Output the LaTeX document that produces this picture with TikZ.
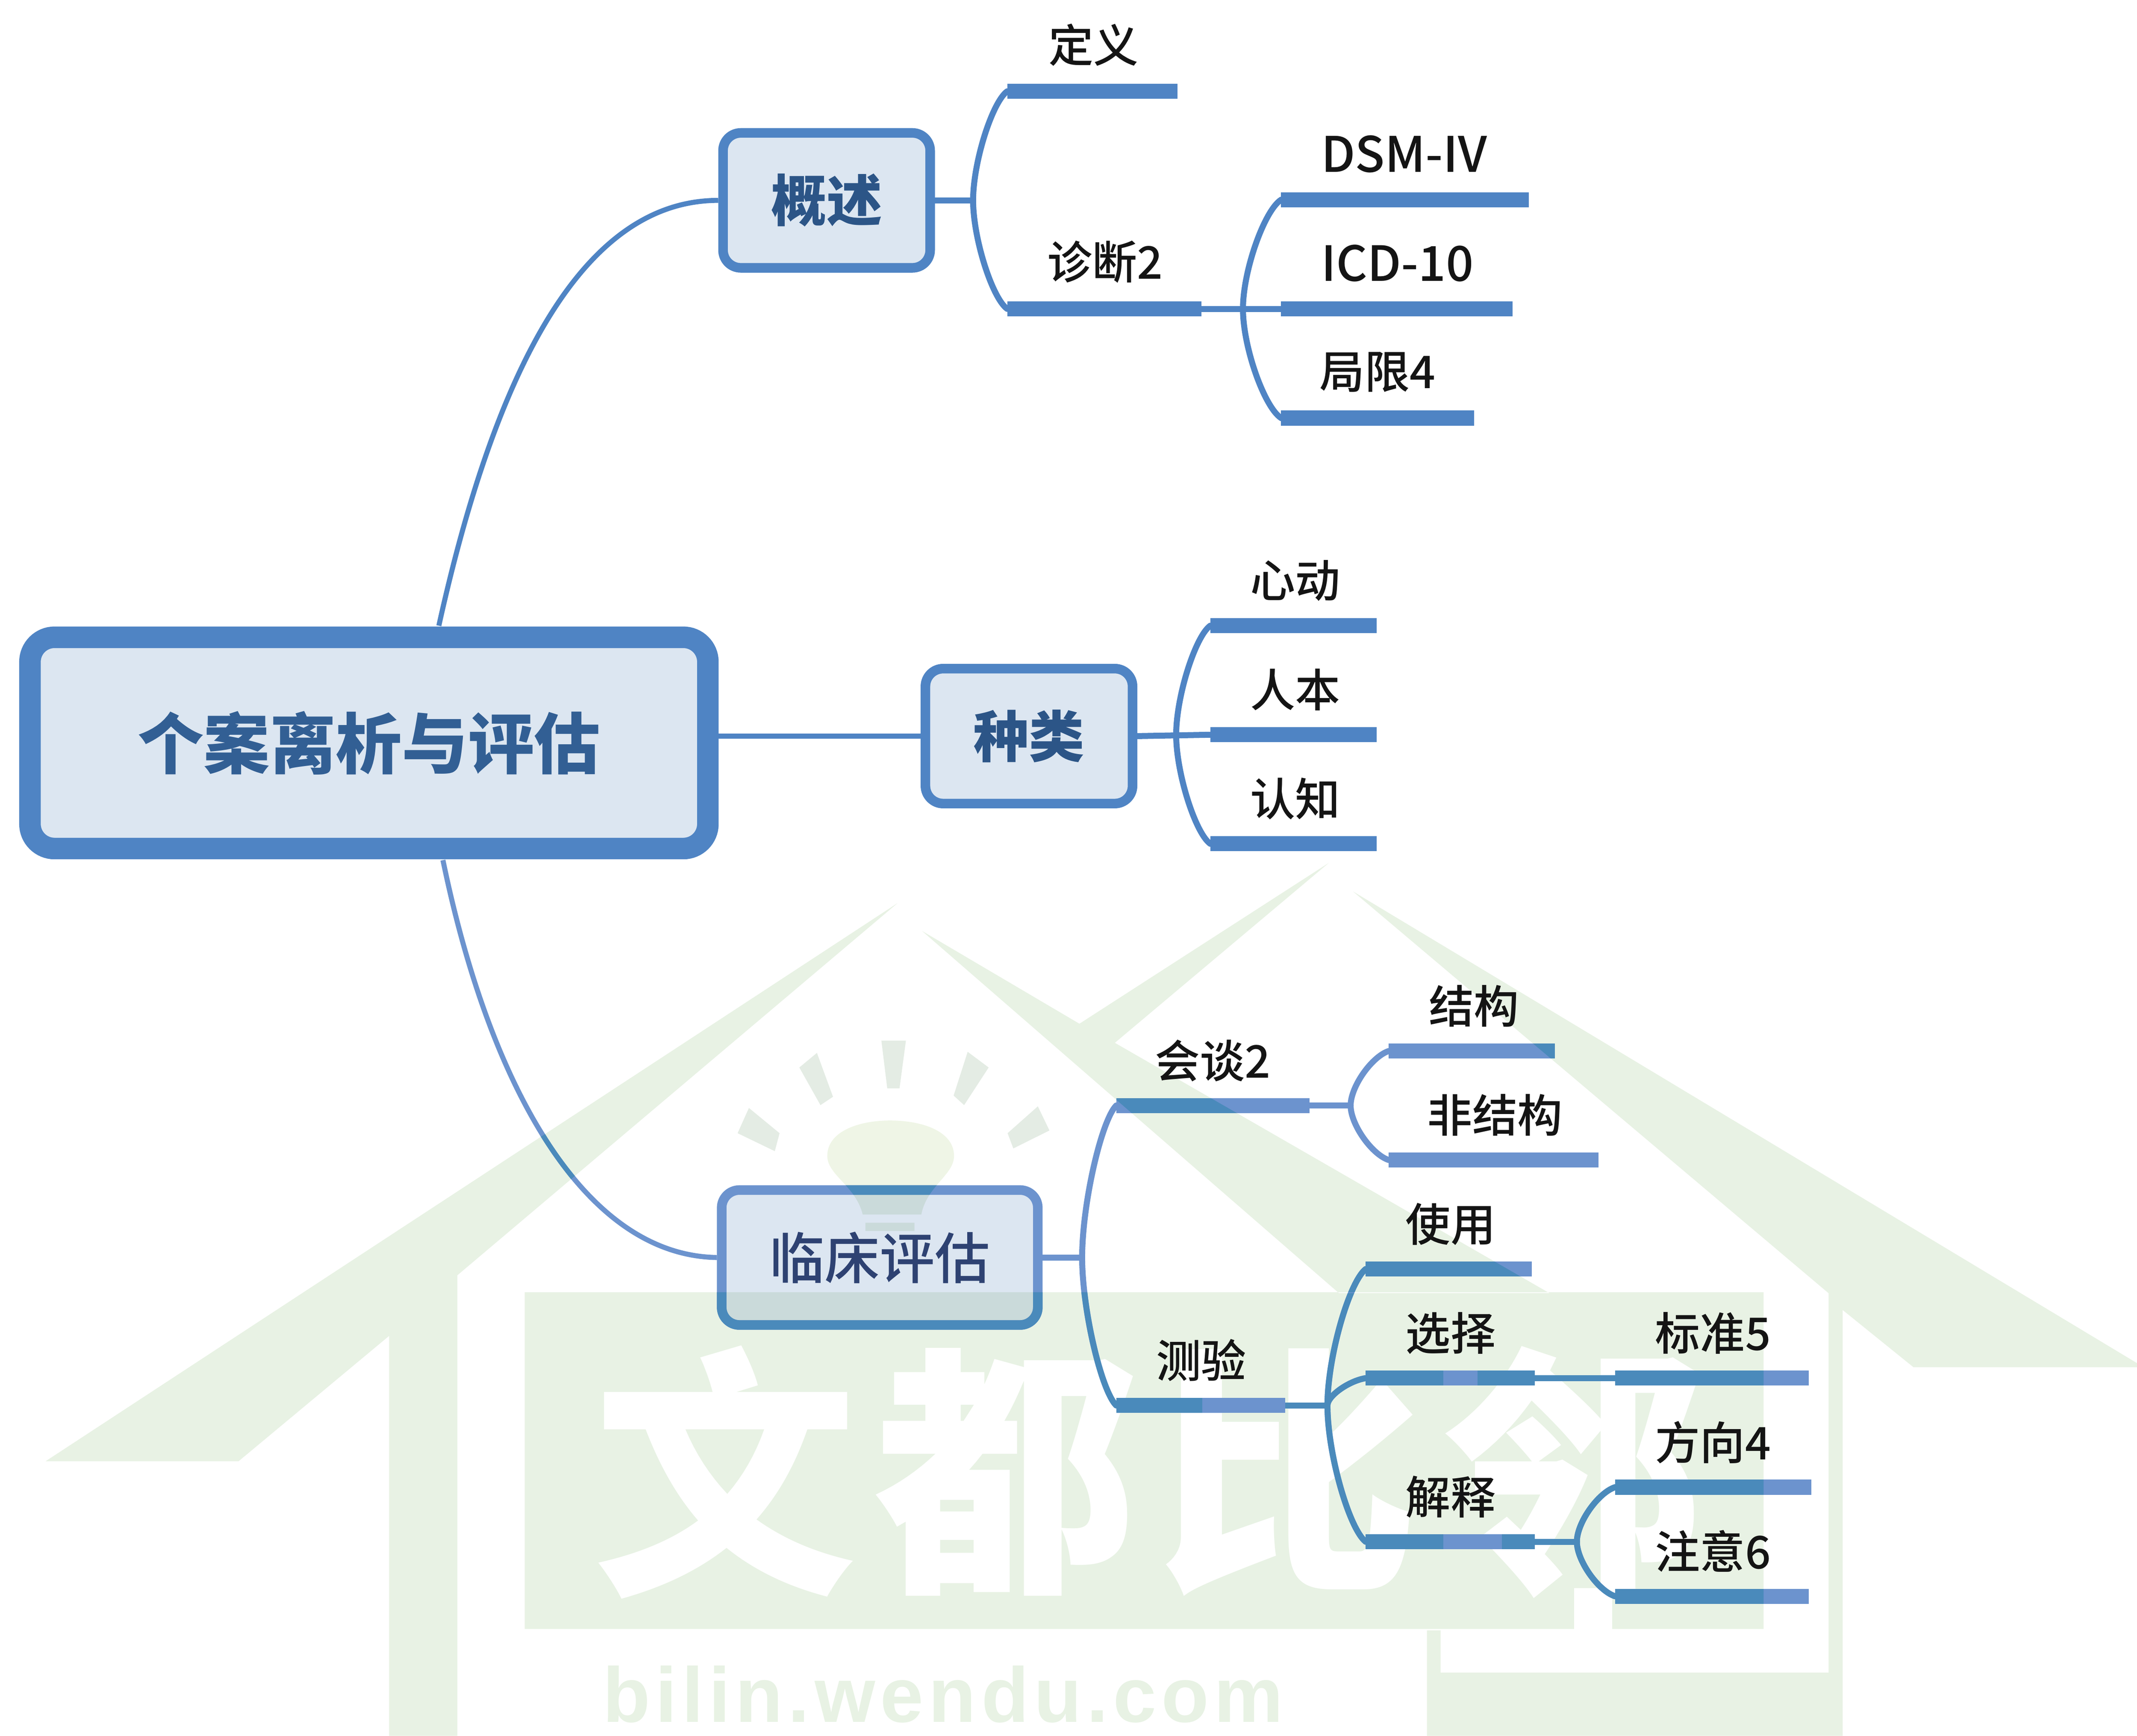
\documentclass[tikz,border=0pt]{standalone}
\usepackage{fontspec}
\usetikzlibrary{calc}
\setmainfont{Noto Sans CJK SC}
\newfontfamily\medfont{Noto Sans CJK SC Medium}
\newfontfamily\urlfont[LetterSpace=6.5]{Liberation Sans}
\definecolor{wmgreen}{HTML}{E8F2E4}
\definecolor{wmray}{HTML}{E4ECE4}
\definecolor{wmbulb}{HTML}{EFF5E6}
\definecolor{wmtint}{RGB}{150,185,150}
\definecolor{mapblue}{HTML}{4F84C4}
\definecolor{lowblue}{HTML}{6C93CE}
\definecolor{darkblue}{HTML}{4A8ABB}
\definecolor{boxfill}{HTML}{DCE6F1}
\definecolor{rootink}{HTML}{325F94}
\definecolor{boxink}{HTML}{2C5587}
\definecolor{lowink}{HTML}{2E4272}
\tikzset{
  wmhouse/.style={fill=wmgreen},
  wmraysty/.style={fill=wmray},
  wmbulbsty/.style={fill=wmbulb},
  conn/.style={draw=mapblue,line width=2.5pt,line cap=round},
  mainconn/.style={draw=mapblue,line width=2.1pt},
  lowconn/.style={draw=lowblue,line width=2.5pt,line cap=round},
  lowmain/.style={draw=lowblue,line width=2.1pt},
  barbox/.style={fill=mapblue,inner sep=0pt,minimum height=0.22cm,outer sep=0pt},
  lowbar/.style={barbox,fill=lowblue},
  lbl/.style={inner sep=0pt,anchor=west,text=black!92,font=\medfont\fontsize{18.8}{20}\selectfont},
  rootbox/.style={draw=mapblue,fill=boxfill,line width=9pt,rounded corners=0.36cm,inner sep=0pt,text=rootink,font=\fontsize{27.6}{30}\selectfont\bfseries,minimum width=9.95cm,minimum height=3.1cm},
  topicbox/.style={draw=mapblue,fill=boxfill,line width=4pt,rounded corners=0.26cm,inner sep=0pt,text=boxink,font=\fontsize{23.2}{26}\selectfont\bfseries,minimum height=1.98cm},
  wmchar/.style={inner sep=0pt,text=white,font=\fontsize{110}{112}\selectfont\bfseries},
  wmurl/.style={inner sep=0pt,text=wmgreen,font=\urlfont\bfseries\fontsize{32.5}{36}\selectfont},
}
\newcommand{\wmhousepath}{
  (658.6,662.5) -- (33.4,1072) -- (175,1072) -- (285.5,980) -- (285.5,1273.4) -- (335.5,1273.4) -- (335.5,935.6) -- cycle
  (676.6,683) -- (792,751) -- (975,633) -- (818,765) -- (1137,948.7) -- (982.5,948.7) -- cycle
  (992.8,654) -- (1568,1000) -- (1568,1003) -- (1404,1003) -- (1352,961) -- (1352,1273.4) -- (1047,1273.4) -- (1047,1196) -- (1057,1196) -- (1057,1227) -- (1341.7,1227) -- (1341.7,948.7) -- cycle
  (385,948) rectangle (1294,1195)
}
\newcommand{\wmraypath}{
  (646.7,763.4) -- (664.7,763.4) -- (660,798.4) -- (651,798.4) -- cycle
  (599.4,772.4) -- (586.5,783.1) -- (602,810.7) -- (611.2,804.6) -- cycle
  (710,771.6) -- (725.4,783.1) -- (707.4,810.7) -- (699.7,803.7) -- cycle
  (549.5,812.8) -- (572,831.3) -- (568.5,844.5) -- (541.2,831.3) -- cycle
  (761.5,811.6) -- (770,829.3) -- (743.5,842.5) -- (739.3,831.3) -- cycle
  (635,897) rectangle (671,903)
}
\newcommand{\wmbulbpath}{
  (633,891) .. controls (628,870) and (607,862) .. (607,848) .. controls (607,830) and (630,822) .. (653,822) .. controls (677,822) and (700,830) .. (700,848) .. controls (700,862) and (680,870) .. (676,891) -- cycle
}
% name, x1, x2, y, text x, text y, text
\newcommand{\leafbar}[7]{%
  \node[barbox,minimum width={(#3-#2)*0.02cm}] (#1) at ({(#2+#3)/2},#4) {};
  \node[lbl] (#1t) at (#5,#6) {#7};
}
\newcommand{\lowleaf}[7]{%
  \node[lowbar,minimum width={(#3-#2)*0.02cm}] (#1) at ({(#2+#3)/2},#4) {};
  \node[lbl] (#1t) at (#5,#6) {#7};
}
% junction, target bar, connector style
\newcommand{\brch}[3][conn]{%
  \coordinate (tmpA) at ($(#2|-#3.west)!0.56!(#3.west)$);
  \coordinate (tmpB) at ($(#3.west)!0.1!(#2)$);
  \draw[#1] (#2) .. controls ($(#2|-#3.west)!0.65!(#2)$) and (tmpA|-tmpB) .. (#3.west);
}
\newcommand{\lowconns}[2]{%
  \draw[#2] (rb0) .. controls (360,800) and (430,921) .. (lc.west);
  \draw[#1] (lc.east) -- (j4);
  \brch[#1]{j4}{ht}\brch[#1]{j4}{cy}
  \draw[#1] (ht.east) -- (j5);
  \brch[#1]{j5}{jg}\brch[#1]{j5}{fjg}
  \draw[#1] (cy.east) -- (j6);
  \brch[#1]{j6}{sy}\brch[#1]{j6}{xz}\brch[#1]{j6}{js}
  \draw[#1] (xz.east) -- (bz.west);
  \draw[#1] (js.east) -- (j7);
  \brch[#1]{j7}{fx}\brch[#1]{j7}{zy}
}
\newcommand{\barplate}[1]{\fill[darkblue] (#1.north west) rectangle (#1.south east);}
\begin{document}
\begin{tikzpicture}[x=0.02cm,y=-0.02cm]
\useasboundingbox (0,0) rectangle (1568,1273.4);
% watermark
\fill[wmhouse] \wmhousepath;
\fill[wmraysty] \wmraypath;
\fill[wmbulbsty] \wmbulbpath;
\node[wmchar] (wm1) at (532,1080) {文};
\node[wmchar] (wm2) at (738,1080) {都};
\node[wmchar] (wm3) at (945,1080) {比};
\node[wmchar] (wm4) at (1155,1080) {邻};
\fill[white] (1155,1165) rectangle (1183,1196);
\node[wmurl,anchor=west] (wmu) at (442,1243) {bilin.wendu.com};
% boxes
\node[rootbox] (root) at (270.7,545) {个案离析与评估};
\node[topicbox,minimum width=3.04cm] (gs) at (606.5,147) {概述};
\node[topicbox,minimum width=3.04cm] (zl) at (755,540) {种类};
\node[topicbox,draw=lowblue,text=lowink,font=\medfont\fontsize{23}{26}\selectfont,minimum width=4.64cm] (lc) at (645.5,922.5) {临床评估};
% branch: gaishu
\leafbar{dy}{739}{864}{67}{769}{33}{定义}
\leafbar{zd}{739}{881.5}{226.6}{768}{192}{诊断2}
\leafbar{dsm}{940}{1121.6}{146.5}{969}{113}{\fontsize{20.4}{22}\selectfont DSM-IV}
\leafbar{icd}{940}{1109.7}{226.6}{969}{193}{\fontsize{20.2}{22}\selectfont ICD-10}
\leafbar{jx}{940}{1081.6}{306.7}{968}{273}{局限4}
% branch: zhonglei
\leafbar{xd}{888}{1010}{459}{917}{426}{心动}
\leafbar{rb}{888}{1010}{539}{917}{506}{人本}
\leafbar{rz}{888}{1010}{619}{917}{586}{认知}
% branch: linchuang
\lowleaf{ht}{819}{961}{811}{847}{778}{会谈2}
\lowleaf{cy}{819}{943}{1031}{848}{998}{测验}
\lowleaf{jg}{1019}{1141}{771}{1048}{738}{结构}
\lowleaf{fjg}{1019}{1173}{851}{1047}{818}{非结构}
\lowleaf{sy}{1002}{1124}{931}{1031}{898}{使用}
\lowleaf{xz}{1002}{1126}{1011}{1031}{978}{选择}
\lowleaf{js}{1002}{1126}{1131}{1031}{1098}{解释}
\lowleaf{bz}{1185}{1327}{1011}{1214}{978}{标准5}
\lowleaf{fx}{1185}{1329}{1091}{1214}{1058}{方向4}
\lowleaf{zy}{1185}{1327}{1171}{1214}{1138}{注意6}
% root connectors
\coordinate (ra) at (322,459);
\coordinate (rb0) at (325,631);
\draw[mainconn] (ra) .. controls (365,265) and (430,147) .. (gs.west);
\draw[mainconn] (root.east|-zl.west) -- (zl.west);
% junctions
\coordinate (j1) at (714,147);
\draw[conn] (gs.east) -- (j1);
\brch{j1}{dy}\brch{j1}{zd}
\coordinate (j2) at (912,226.6);
\draw[conn] (zd.east) -- (icd.west);
\brch{j2}{dsm}\brch{j2}{jx}
\coordinate (j3) at (863,539);
\draw[conn] (zl.east) -- (rb.west);
\brch{j3}{xd}\brch{j3}{rz}
\coordinate (j4) at (794,922.5);
\coordinate (j5) at (991,811);
\coordinate (j6) at (974,1031);
\coordinate (j7) at (1157,1131);
\lowconns{lowconn}{lowmain}
% watermark showing through the box interior
\begin{scope}
\clip ([shift={(7,7)}]lc.north west) rectangle ([shift={(-7,-7)}]lc.south east);
\fill[wmtint,fill opacity=.25] \wmhousepath;
\fill[wmtint,fill opacity=.25] \wmbulbpath;
\fill[wmtint,fill opacity=.25] \wmraypath;
\end{scope}
% darker strokes where the watermark lies behind them
\begin{scope}
\clip \wmhousepath \wmraypath \wmbulbpath;
\lowconns{conn,draw=darkblue}{mainconn,draw=darkblue}
\barplate{ht}\barplate{cy}\barplate{jg}\barplate{fjg}\barplate{sy}\barplate{xz}\barplate{js}\barplate{bz}\barplate{fx}\barplate{zy}
\draw[darkblue,line width=4pt,rounded corners=0.26cm] ([shift={(3.5,3.5)}]lc.north west) rectangle ([shift={(-3.5,-3.5)}]lc.south east);
\fill[lowblue] (882,1025.5) rectangle (943,1036.5);
\fill[lowblue] (1059,1005.5) rectangle (1084,1016.5);
\fill[lowblue] (1059,1125.5) rectangle (1102,1136.5);
\end{scope}
\end{tikzpicture}
\end{document}
